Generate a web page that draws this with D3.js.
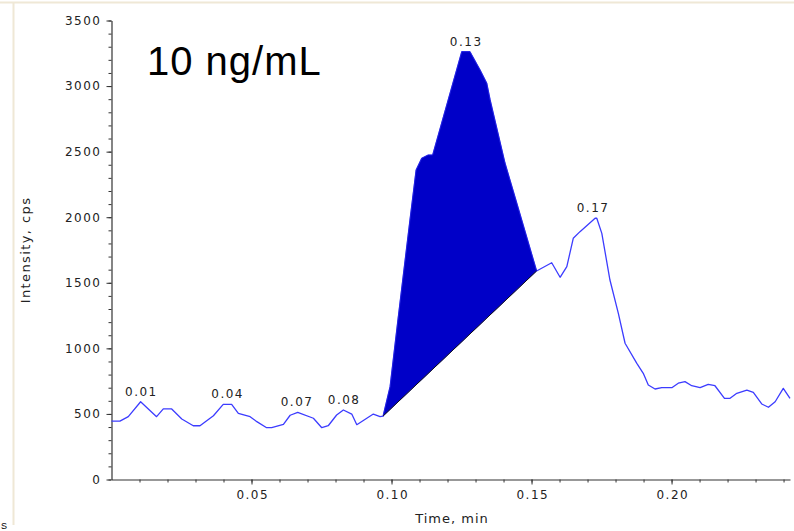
<!DOCTYPE html>
<html lang="en">
<head>
<meta charset="utf-8">
<title>10 ng/mL chromatogram</title>
<script src="https://d3js.org/d3.v7.min.js"></script>
<style>
body { margin: 0; background: #fff; }
.tick text { font-family: "DejaVu Sans", sans-serif; font-size: 12px; letter-spacing: 1.5px; fill: #222; }
</style>
</head>
<body>
<div id="chart"></div>
<script>
// retention time (min) and intensity (cps)
var times = [0.000, 0.0030, 0.0060, 0.0104, 0.0161, 0.0185, 0.0215, 0.0251, 0.0292, 0.0316,
  0.0364, 0.0399, 0.0429, 0.0453, 0.0495, 0.0519, 0.0554, 0.0572, 0.0614, 0.0638,
  0.0665, 0.0721, 0.0751, 0.0774, 0.0804, 0.0828, 0.0858, 0.0876, 0.0935, 0.0959,
  0.0970, 0.0995, 0.1023, 0.1066, 0.1088, 0.1108, 0.1131, 0.1147, 0.1251, 0.1280,
  0.1316, 0.1340, 0.1352, 0.1405, 0.1447, 0.1518, 0.1572, 0.1602, 0.1626, 0.1649,
  0.1673, 0.1727, 0.1733, 0.1751, 0.1780, 0.1810, 0.1834, 0.1876, 0.1899, 0.1917,
  0.1941, 0.1965, 0.2001, 0.2024, 0.2048, 0.2072, 0.2102, 0.2131, 0.2155, 0.2189,
  0.2209, 0.2233, 0.2269, 0.2292, 0.2322, 0.2346, 0.2370, 0.2399, 0.2423];
var intensity = [445, 445, 479, 593, 479, 538, 538, 461, 410, 410,
  486, 573, 573, 505, 479, 441, 395, 395, 421, 490,
  512, 467, 395, 410, 492, 530, 499, 418, 499, 479,
  484, 708, 1216, 1979, 2360, 2449, 2474, 2474, 3262, 3262,
  3123, 3021, 2894, 2413, 2108, 1590, 1653, 1542, 1623, 1839,
  1890, 1992, 1992, 1877, 1521, 1267, 1039, 886, 810, 721,
  690, 700, 700, 734, 746, 715, 700, 726, 715, 619,
  619, 657, 682, 665, 576, 551, 593, 695, 619];

// integration baseline of the 0.13 peak
var baseTimes = [0.0970, 0.1518];
var baseValues = [484, 1590];

// apex labels
var peakLabels = ["0.01", "0.04", "0.07", "0.08", "0.13", "0.17"];
var peakTimes = [0.0104, 0.0412, 0.0660, 0.0828, 0.1264, 0.1717];
var peakValues = [593, 573, 512, 530, 3262, 1992];

var xTicks = [0.05, 0.10, 0.15, 0.20];
var yTicks = [0, 500, 1000, 1500, 2000, 2500, 3000, 3500];

var W = 794, H = 531;

var svg = d3.select("#chart").append("svg")
  .attr("width", W)
  .attr("height", H);

svg.append("rect").attr("width", W).attr("height", H).attr("fill", "#fff");

// frame of the original window
svg.append("line").attr("x1", 0).attr("x2", W).attr("y1", 2.5).attr("y2", 2.5)
  .attr("stroke", "#efe8d6").attr("stroke-width", 2);
svg.append("line").attr("x1", 13.5).attr("x2", 13.5).attr("y1", 2).attr("y2", 525)
  .attr("stroke", "#efe8d6").attr("stroke-width", 2);
svg.append("text").attr("x", 1).attr("y", 529)
  .style("font-family", "Liberation Sans, Arial, sans-serif").style("font-size", "9px")
  .text("S");

var x = d3.scaleLinear().domain([0, 0.2423]).range([111.5, 790]);
var y = d3.scaleLinear().domain([0, 3500]).range([479.5, 20.5]);

var pts = times.map(function(t, i) { return {t: t, v: intensity[i]}; });

// minor ticks
svg.append("g")
  .attr("transform", "translate(0,479.5)")
  .call(d3.axisBottom(x).tickValues(d3.range(1, 25).map(function(d) { return d / 100; }))
    .tickSize(3).tickFormat(""))
  .call(function(g) { g.select(".domain").remove(); g.selectAll("line").attr("stroke", "#333"); });
svg.append("g")
  .attr("transform", "translate(111.5,0)")
  .call(d3.axisLeft(y).tickValues(d3.range(0, 3501, 100)).tickSize(3).tickFormat(""))
  .call(function(g) { g.select(".domain").remove(); g.selectAll("line").attr("stroke", "#333"); });

// major ticks + labels
var xAxis = svg.append("g")
  .attr("transform", "translate(0,479.5)")
  .call(d3.axisBottom(x).tickValues(xTicks).tickSize(5).tickSizeOuter(0).tickPadding(5.5)
    .tickFormat(d3.format(".2f")));
var yAxis = svg.append("g")
  .attr("transform", "translate(111.5,0)")
  .call(d3.axisLeft(y).tickValues(yTicks).tickSize(5).tickSizeOuter(0).tickPadding(5)
    .tickFormat(d3.format("d")));
[xAxis, yAxis].forEach(function(g) {
  g.select(".domain").attr("stroke", "#333").attr("stroke-width", 1.2);
  g.selectAll(".tick line").attr("stroke", "#333");
});
xAxis.selectAll(".tick text").attr("dx", "0.75px");

// trace
svg.append("path")
  .datum(pts)
  .attr("fill", "none")
  .attr("stroke", "#3c3cff")
  .attr("stroke-width", 1.3)
  .attr("stroke-linejoin", "round")
  .attr("d", d3.line().x(function(d) { return x(d.t); }).y(function(d) { return y(d.v); }));

// integrated peak
var base = d3.scaleLinear().domain(baseTimes).range(baseValues);
var peakPts = pts.filter(function(d) { return d.t >= baseTimes[0] && d.t <= baseTimes[1]; });
svg.append("path")
  .datum(peakPts)
  .attr("fill", "#0000c8")
  .attr("stroke", "#2222dd")
  .attr("stroke-width", 0.8)
  .attr("d", d3.area()
    .x(function(d) { return x(d.t); })
    .y0(function(d) { return y(base(d.t)); })
    .y1(function(d) { return y(d.v); }));

svg.append("line")
  .attr("x1", x(baseTimes[0])).attr("y1", y(baseValues[0]))
  .attr("x2", x(baseTimes[1])).attr("y2", y(baseValues[1]))
  .attr("stroke", "#111").attr("stroke-width", 1);

// apex labels
svg.append("g").selectAll("text")
  .data(peakLabels)
  .enter().append("text")
  .attr("x", function(d, i) { return x(peakTimes[i]) + 0.75; })
  .attr("y", function(d, i) { return y(peakValues[i]) - 6; })
  .attr("text-anchor", "middle")
  .style("font-family", "DejaVu Sans, sans-serif")
  .style("font-size", "12px")
  .style("letter-spacing", "1.5px")
  .style("fill", "#222")
  .text(function(d) { return d; });

// axis titles
svg.append("text")
  .attr("transform", "translate(30,250) rotate(-90)")
  .attr("text-anchor", "middle")
  .style("font-family", "DejaVu Sans, sans-serif")
  .style("font-size", "13px")
  .style("letter-spacing", "1.4px")
  .style("fill", "#222")
  .text("Intensity, cps");

svg.append("text")
  .attr("x", 452)
  .attr("y", 523)
  .attr("text-anchor", "middle")
  .style("font-family", "DejaVu Sans, sans-serif")
  .style("font-size", "13px")
  .style("letter-spacing", "1px")
  .style("fill", "#222")
  .text("Time, min");

svg.append("text")
  .attr("x", 147)
  .attr("y", 75)
  .style("font-family", "Liberation Sans, Arial, sans-serif")
  .style("font-size", "40px")
  .style("letter-spacing", "1px")
  .style("fill", "#000")
  .text("10 ng/mL");
</script>
</body>
</html>
